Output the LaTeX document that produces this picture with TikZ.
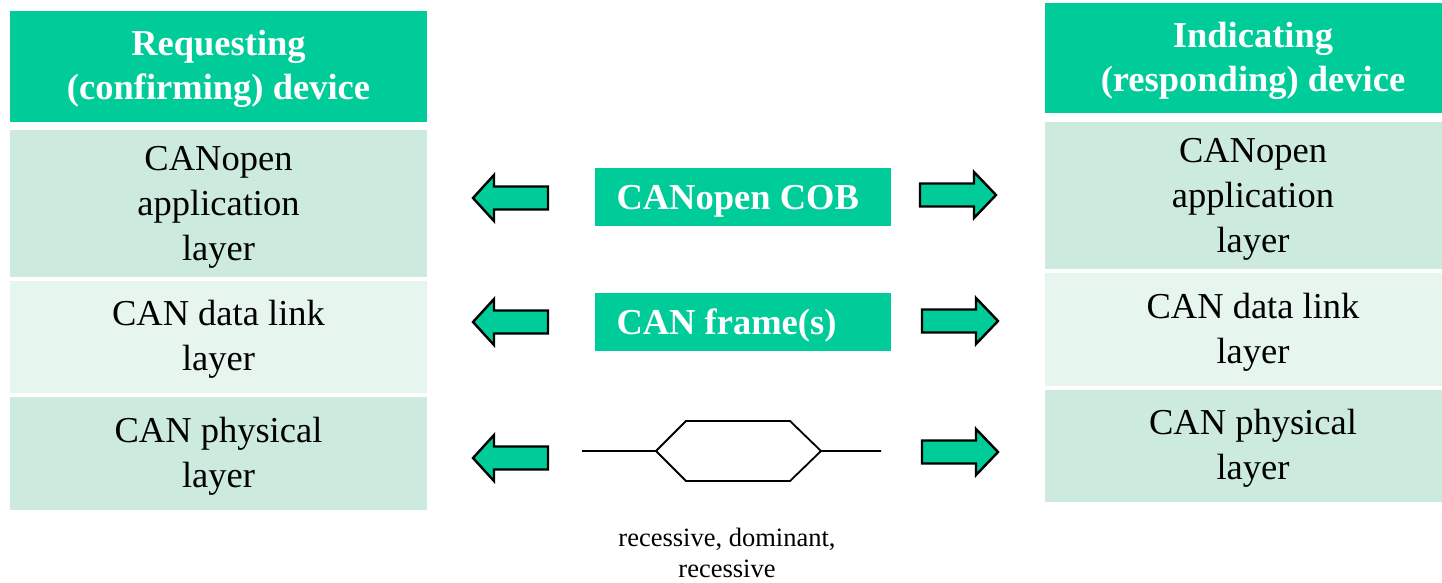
\documentclass[tikz,border=0pt]{standalone}
\usepackage{fontspec}
\setmainfont{Liberation Serif}
\definecolor{cangreen}{HTML}{00CC99}
\definecolor{layerdark}{HTML}{CCEBDE}
\definecolor{layerlight}{HTML}{E6F5EE}
\begin{document}
\begin{tikzpicture}[x=1pt,y=-1pt,
  box/.style={inner sep=0pt,outer sep=0pt,anchor=north west},
  headtext/.style={text=white,font=\fontsize{36.5}{44}\selectfont\bfseries,align=center},
  layertext/.style={font=\fontsize{36.5}{45}\selectfont,align=center},
  pdutext/.style={text=white,font=\fontsize{36.5}{44}\selectfont\bfseries,anchor=west},
  blockarrow/.style={fill=cangreen,draw=black,line width=2.4pt,line join=miter},
  wave/.style={draw=black,line width=1.8pt,line join=miter}]
\useasboundingbox (0,0) rectangle (1442,582);

% left protocol stack
\fill[cangreen]   (10,11)  rectangle (427,122);
\fill[layerdark]  (10,130) rectangle (427,277);
\fill[layerlight] (10,281) rectangle (427,393);
\fill[layerdark]  (10,397) rectangle (427,510);
\node[headtext]  (lhead) at (218.5,68.5) {Requesting\\(confirming) device};
\node[layertext] (lapp)  at (218.5,207) {CANopen\\application\\layer};
\node[layertext] (ldl)   at (218.5,339.5) {CAN data link\\layer};
\node[layertext] (lphy)  at (218.5,456) {CAN physical\\layer};

% right protocol stack
\fill[cangreen]   (1045,3)   rectangle (1442,113);
\fill[layerdark]  (1045,122) rectangle (1442,269);
\fill[layerlight] (1045,273) rectangle (1442,386);
\fill[layerdark]  (1045,390) rectangle (1442,502);
\node[headtext]  (rhead) at (1253,60.5) {Indicating\\(responding) device};
\node[layertext] (rapp)  at (1253,199) {CANopen\\application\\layer};
\node[layertext] (rdl)   at (1253,332) {CAN data link\\layer};
\node[layertext] (rphy)  at (1253,448.5) {CAN physical\\layer};

% exchanged units
\fill[cangreen] (595,168) rectangle (891,226);
\fill[cangreen] (595,293) rectangle (891,351);
\node[pdutext] (cob)   at (613,201) {CANopen COB};
\node[pdutext] (frame) at (613,326) {CAN frame(s)};

% left block arrows (tip x, centre y)
\foreach \yc in {198,322,458}{
  \draw[blockarrow] (473,\yc) -- (494,\yc-23) -- (494,\yc-11.5) -- (548,\yc-11.5)
    -- (548,\yc+11.5) -- (494,\yc+11.5) -- (494,\yc+23) -- cycle;
}
% right block arrows
\foreach \xs/\yc in {920/195,922/321,922/452}{
  \draw[blockarrow] (\xs+76,\yc) -- (\xs+54,\yc-23) -- (\xs+54,\yc-11.5) -- (\xs,\yc-11.5)
    -- (\xs,\yc+11.5) -- (\xs+54,\yc+11.5) -- (\xs+54,\yc+23) -- cycle;
}

% bit levels on the bus
\draw[wave] (582,451) -- (656,451) -- (686,421) -- (790,421) -- (821,451) -- (881,451);
\draw[wave] (656,451) -- (686,481) -- (790,481) -- (821,451);
\node[font=\fontsize{26.5}{31}\selectfont,align=center] (levels) at (727,553)
  {recessive, dominant,\\recessive};
\end{tikzpicture}
\end{document}
